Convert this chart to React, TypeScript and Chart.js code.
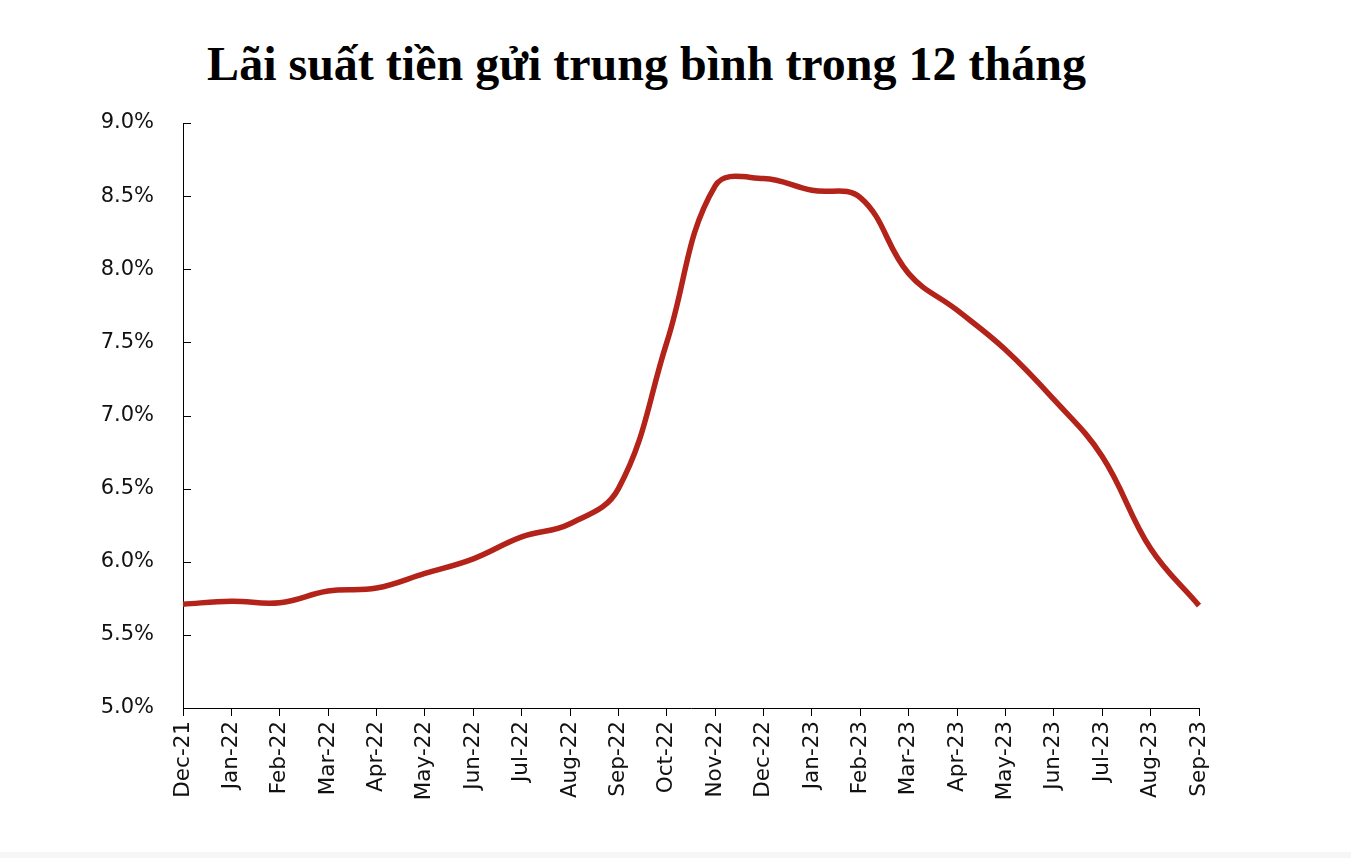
import React, { useEffect, useRef } from "react";
import { Chart, registerables } from "chart.js";

Chart.register(...registerables);

const TITLE = "Lãi suất tiền gửi trung bình trong 12 tháng";

const months = [
  "Dec-21", "Jan-22", "Feb-22", "Mar-22", "Apr-22", "May-22", "Jun-22", "Jul-22",
  "Aug-22", "Sep-22", "Oct-22", "Nov-22", "Dec-22", "Jan-23", "Feb-23", "Mar-23",
  "Apr-23", "May-23", "Jun-23", "Jul-23", "Aug-23", "Sep-23",
];

const depositRate = [
  5.71, 5.73, 5.72, 5.80, 5.82, 5.92, 6.02, 6.17,
  6.26, 6.50, 7.50, 8.57, 8.62, 8.54, 8.49, 7.97,
  7.72, 7.45, 7.11, 6.72, 6.09, 5.70,
];

const yMin = 5.0;
const yMax = 9.0;
const yStep = 0.5;

const innerYTicks = {
  id: "innerYTicks",
  afterDraw(chart: any) {
    const { ctx, chartArea } = chart;
    const y = chart.scales.y;
    ctx.save();
    ctx.strokeStyle = "#000";
    ctx.lineWidth = 1;
    y.ticks.forEach((_t: any, i: number) => {
      const py = Math.round(y.getPixelForTick(i)) + 0.5;
      ctx.beginPath();
      ctx.moveTo(chartArea.left, py);
      ctx.lineTo(chartArea.left + 8, py);
      ctx.stroke();
    });
    ctx.restore();
  },
};

export default function App() {
  const canvasRef = useRef<HTMLCanvasElement | null>(null);

  useEffect(() => {
    document.body.style.margin = "0";
    const canvas = canvasRef.current;
    if (!canvas) return;
    const chart = new Chart(canvas, {
      type: "line",
      data: {
        labels: months,
        datasets: [
          {
            data: depositRate,
            borderColor: "#B3231A",
            borderWidth: 5.5,
            pointRadius: 0,
            tension: 0.4,
            fill: false,
          },
        ],
      },
      options: {
        animation: false,
        responsive: false,
        maintainAspectRatio: false,
        layout: { padding: { left: 0, top: 123, right: 152, bottom: 0 } },
        plugins: {
          legend: { display: false },
          tooltip: { enabled: false },
          title: { display: false },
        },
        scales: {
          x: {
            offset: false,
            grid: {
              display: true,
              drawOnChartArea: false,
              drawTicks: true,
              tickLength: 8,
              tickColor: "#000",
            },
            border: { display: true, color: "#000", width: 1 },
            ticks: {
              autoSkip: false,
              minRotation: 90,
              maxRotation: 90,
              padding: 5,
              color: "#111",
              font: { family: "DejaVu Sans", size: 21.5 },
            },
            afterFit(scale: any) {
              scale.height = 150;
            },
          },
          y: {
            min: yMin,
            max: yMax,
            grid: { display: true, drawOnChartArea: false, drawTicks: false },
            border: { display: true, color: "#000", width: 1 },
            ticks: {
              stepSize: yStep,
              padding: 29,
              color: "#111",
              font: { family: "DejaVu Sans", size: 21 },
              callback: (v: any) => Number(v).toFixed(1) + "%",
            },
            afterFit(scale: any) {
              scale.width = 183;
            },
          },
        },
      },
      plugins: [innerYTicks],
    });
    return () => chart.destroy();
  }, []);

  return (
    <div style={{ position: "relative", width: 1351, height: 858, background: "#fff", overflow: "hidden" }}>
      <div
        style={{
          position: "absolute",
          left: 0,
          top: 34,
          width: 1293,
          textAlign: "center",
          fontFamily: "'Liberation Serif', 'Times New Roman', serif",
          fontWeight: "bold",
          fontSize: 48,
          lineHeight: "60px",
          color: "#000",
          whiteSpace: "nowrap",
        }}
      >
        {TITLE}
      </div>
      <canvas ref={canvasRef} width={1351} height={858} style={{ position: "absolute", left: 0, top: 0 }} />
      <div style={{ position: "absolute", left: 0, top: 852, width: 1351, height: 6, background: "#f6f6f6" }} />
    </div>
  );
}
